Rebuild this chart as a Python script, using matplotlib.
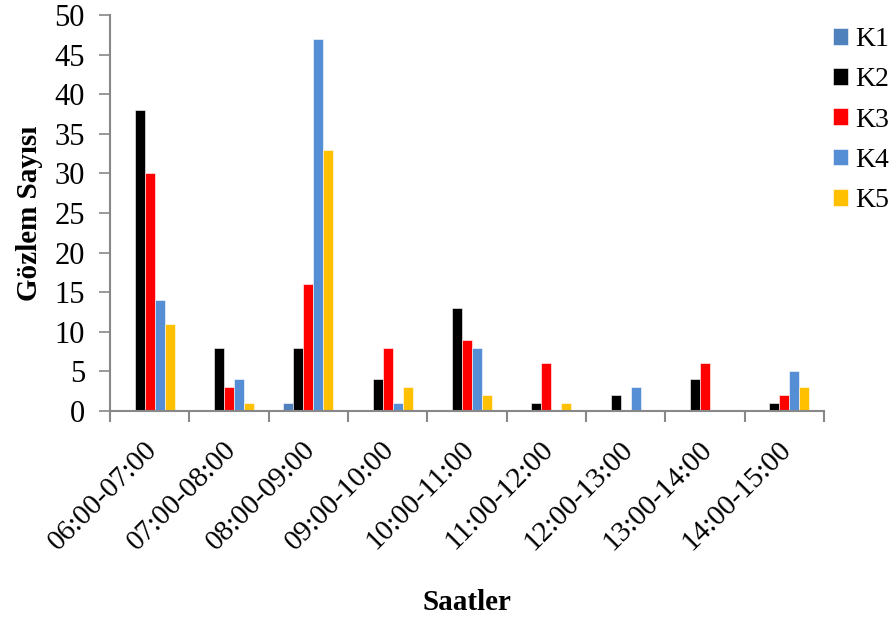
import matplotlib
matplotlib.use("Agg")
import matplotlib.pyplot as plt
import matplotlib.transforms as mtrans
import numpy as np

categories = ["06:00-07:00", "07:00-08:00", "08:00-09:00", "09:00-10:00", "10:00-11:00",
              "11:00-12:00", "12:00-13:00", "13:00-14:00", "14:00-15:00"]
series_names = ["K1", "K2", "K3", "K4", "K5"]
K1 = [0, 0, 1, 0, 0, 0, 0, 0, 0]
K2 = [38, 8, 8, 4, 13, 1, 2, 4, 1]
K3 = [30, 3, 16, 8, 9, 6, 0, 6, 2]
K4 = [14, 4, 47, 1, 8, 0, 3, 0, 5]
K5 = [11, 1, 33, 3, 2, 1, 0, 0, 3]
series = [K1, K2, K3, K4, K5]
colors = ["#4F81BD", "#000000", "#FF0000", "#558ED5", "#FFC000"]

plt.rcParams['font.family'] = ['Liberation Serif', 'DejaVu Serif']

fig = plt.figure(figsize=(8.94, 6.17), dpi=100)
ax = fig.add_axes([110/894, 1-411/617, (824-110)/894, (411-15)/617])

x = np.arange(len(categories))
bw = 0.126
for i, (name, vals, c) in enumerate(zip(series_names, series, colors)):
    ax.bar(x + (i - 2) * bw, vals, width=bw, color=c, label=name,
           edgecolor='white', linewidth=0.4)

ax.set_xlim(-0.5, len(categories) - 0.5)
ax.set_ylim(0, 50)
ax.set_yticks(range(0, 51, 5))
ax.tick_params(axis='y', labelsize=22, length=8, color='#888888', width=1.2, pad=10)
ax.set_xticks(x)
ax.set_xticklabels(categories, rotation=45, ha='right', va='center',
                   rotation_mode='anchor', fontsize=21)
ax.tick_params(axis='x', length=0, pad=25)
offset = mtrans.ScaledTranslation(3/100, 0, fig.dpi_scale_trans)
for lab in ax.get_xticklabels():
    lab.set_transform(lab.get_transform() + offset)
ax.set_xticks(np.arange(-0.5, len(categories) + 0.5, 1), minor=True)
ax.tick_params(axis='x', which='minor', length=8, color='#888888', width=1.5)

for s in ['top', 'right']:
    ax.spines[s].set_visible(False)
for s in ['left', 'bottom']:
    ax.spines[s].set_color('#888888')
    ax.spines[s].set_linewidth(1.5)

ax.set_ylabel("Gözlem Sayısı", fontsize=21, fontweight='bold', labelpad=8)
ax.set_xlabel("Saatler", fontsize=21, fontweight='bold', labelpad=24)

leg = fig.legend(loc='upper left', bbox_to_anchor=(833/894, 1-27/617), frameon=False, fontsize=20,
                 handlelength=0.55, handleheight=0.55, handletextpad=0.25, labelspacing=0.55,
                 borderpad=0, borderaxespad=0)

fig.savefig("out.png", dpi=100)
